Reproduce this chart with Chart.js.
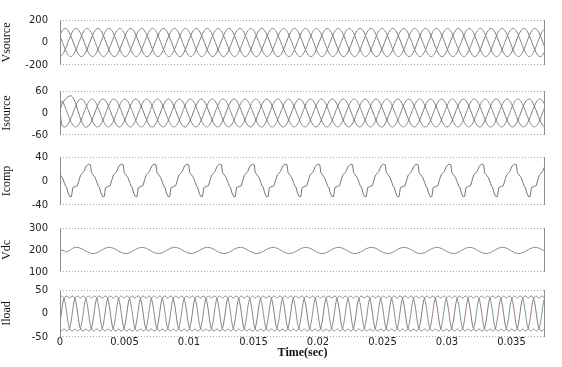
<!DOCTYPE html>
<html>
<head>
<meta charset="utf-8">
<script src="https://cdn.jsdelivr.net/npm/chart.js@4.4.1/dist/chart.umd.min.js"></script>
<style>
    html, body { margin: 0; padding: 0; background: #fff; overflow: hidden; }
    #wrap { position: relative; width: 562px; height: 367px; overflow: hidden; }
    .panel { position: absolute; left: 0; width: 562px; }
</style>
</head>
<body>
<div id="wrap">
    <div class="panel" style="top:12px;height:61px"><canvas id="vsourceChart"></canvas></div>
    <div class="panel" style="top:83px;height:60px"><canvas id="isourceChart"></canvas></div>
    <div class="panel" style="top:149px;height:64px"><canvas id="icompChart"></canvas></div>
    <div class="panel" style="top:220px;height:60px"><canvas id="vdcChart"></canvas></div>
    <div class="panel" style="top:282px;height:88px"><canvas id="iloadChart"></canvas></div>
</div>
<script>
// Time axis (seconds) and the fundamental period
const T_END = 0.0376;
const PERIOD = 0.00254;
const xTicks = [0, 0.005, 0.01, 0.015, 0.02, 0.025, 0.03, 0.035];

// One period of each waveform (fraction of period -> value)
const sineFrac = [0, 1/12, 2/12, 3/12, 4/12, 5/12, 6/12, 7/12, 8/12, 9/12, 10/12, 11/12];
const vsourceCycle = [125, 108, 62, 0, -62, -108, -125, -108, -62, 0, 62, 108];
const isourceCycle = [38, 33, 19, 0, -19, -33, -38, -33, -19, 0, 19, 33];
const vdcCycle = [212, 210, 205, 198, 191, 186, 184, 186, 191, 198, 205, 210];

const icompFrac = [0, 0.06, 0.09, 0.20, 0.27, 0.30, 0.33, 0.38, 0.43, 0.48, 0.52, 0.60, 0.66, 0.72, 0.76, 0.80, 0.86, 0.93];
const icompCycle = [28, 27, 14, 6, -4, -9, -10, -20, -26, -26, -11, -9, -8, 3, 10, 12, 16, 25];

const iloadFrac = [0, 0.05, 0.10, 0.17, 0.25, 0.33, 0.40, 0.45, 0.50, 0.55, 0.60, 0.67, 0.75, 0.83, 0.90, 0.95];
const iloadCycle = [0, 24, 34, 37, 33, 37, 34, 22, 0, -24, -34, -37, -33, -37, -34, -22];

// first peak (or rising edge) of each phase, seconds
const vsourcePeaks = [0.00040, 0.00125, 0.00210];
const isourcePeaks = [0.00079, 0.00164, 0.00248];
const icompPeak = -0.00033;
const vdcPeak = 0.00128;
const iloadStarts = [0.00010, 0.00095, 0.00180];

// start-up transients
const isourceHeadA_t = [0, 0.00025, 0.00079, 0.00110, 0.00140, 0.00170, 0.00200];
const isourceHeadA_v = [8, 30, 47, 36, 5, -25, -40];
const isourceHeadB_t = [0];
const isourceHeadB_v = [8];
const isourceHeadC_t = [0];
const isourceHeadC_v = [20];
const vdcHead_t = [0, 0.00025, 0.00050, 0.00090];
const vdcHead_v = [200, 198, 192, 204];

const phaseColors = ['#7a7a7a', '#90799a', '#7a9682'];

// repeat a measured cycle along the time axis
function buildSeries(frac, vals, firstPeak, headT, headV) {
    const pts = [];
    if (headT) headT.forEach((t, i) => pts.push({ x: t, y: headV[i] }));
    const after = pts.length ? pts[pts.length - 1].x : -Infinity;
    for (let k = -1; firstPeak + k * PERIOD < T_END + PERIOD; k++) {
        frac.forEach((f, i) => {
            const x = firstPeak + (k + f) * PERIOD;
            if (x > after) pts.push({ x: x, y: vals[i] });
        });
    }
    return pts;
}

function lineSet(data, color, tension) {
    return {
        data: data,
        borderColor: color,
        borderWidth: 1,
        pointRadius: 0,
        fill: false,
        tension: tension
    };
}

// frame: dotted top/bottom, solid sides
const framePlugin = {
    id: 'frame',
    afterDatasetsDraw(chart) {
        const a = chart.chartArea;
        const ctx = chart.ctx;
        ctx.save();
        ctx.lineWidth = 1;
        ctx.strokeStyle = '#a8a8a8';
        ctx.setLineDash([1, 2]);
        ctx.beginPath();
        ctx.moveTo(a.left, Math.round(a.top) + 0.5);
        ctx.lineTo(a.right, Math.round(a.top) + 0.5);
        ctx.moveTo(a.left, Math.round(a.bottom) - 0.5);
        ctx.lineTo(a.right, Math.round(a.bottom) - 0.5);
        ctx.stroke();
        ctx.setLineDash([]);
        ctx.strokeStyle = '#8c8c8c';
        ctx.beginPath();
        ctx.moveTo(Math.round(a.left) + 0.5, a.top);
        ctx.lineTo(Math.round(a.left) + 0.5, a.bottom);
        ctx.moveTo(Math.round(a.right) - 0.5, a.top);
        ctx.lineTo(Math.round(a.right) - 0.5, a.bottom);
        ctx.stroke();
        ctx.restore();
    }
};

function makePanel(canvasId, datasets, yMin, yMax, yStep, yTitle, isBottom) {
    const ctx = document.getElementById(canvasId).getContext('2d');
    return new Chart(ctx, {
        type: 'line',
        data: { datasets: datasets },
        options: {
            responsive: true,
            maintainAspectRatio: false,
            animation: false,
            events: [],
            layout: { padding: { top: 0, bottom: 0, left: 0, right: 17 } },
            plugins: { legend: { display: false }, tooltip: { enabled: false } },
            scales: {
                x: {
                    type: 'linear',
                    min: 0,
                    max: T_END,
                    display: isBottom,
                    afterBuildTicks: function(scale) {
                        scale.ticks = xTicks.map(v => ({ value: v }));
                    },
                    grid: { display: false, drawTicks: false },
                    border: { display: false },
                    ticks: {
                        padding: 1,
                        color: '#222',
                        autoSkip: false,
                        font: { family: 'DejaVu Sans', size: 10, lineHeight: 0.8 },
                        maxRotation: 0,
                        callback: function(value) { return String(+value.toFixed(4)); }
                    },
                    title: {
                        display: true,
                        text: 'Time(sec)',
                        color: '#111',
                        padding: { top: 0, bottom: 11 },
                        font: { family: 'Liberation Serif', size: 12, weight: 'bold', lineHeight: 1 }
                    }
                },
                y: {
                    min: yMin,
                    max: yMax,
                    afterBuildTicks: function(scale) {
                        scale.ticks = [yMin, yMin + yStep, yMax].map(v => ({ value: v }));
                    },
                    afterFit: function(scale) { scale.width = 60; },
                    grid: {
                        display: true,
                        drawOnChartArea: false,
                        drawTicks: true,
                        tickLength: 10,
                        tickColor: 'rgba(0,0,0,0)',
                        color: 'rgba(0,0,0,0)'
                    },
                    border: { display: false },
                    ticks: {
                        padding: 2,
                        color: '#222',
                        autoSkip: false,
                        font: { family: 'DejaVu Sans', size: 10 }
                    },
                    title: {
                        display: true,
                        text: yTitle,
                        color: '#111',
                        padding: { top: 0, bottom: 0 },
                        font: { family: 'Liberation Serif', size: 12 }
                    }
                }
            }
        },
        plugins: [framePlugin]
    });
}

// Vsource
makePanel('vsourceChart', vsourcePeaks.map((p, i) =>
    lineSet(buildSeries(sineFrac, vsourceCycle, p), phaseColors[i], 0.4)
), -200, 200, 200, 'Vsource', false);

// Isource
const isHeads = [
    [isourceHeadA_t, isourceHeadA_v],
    [isourceHeadB_t, isourceHeadB_v],
    [isourceHeadC_t, isourceHeadC_v]
];
makePanel('isourceChart', isourcePeaks.map((p, i) =>
    lineSet(buildSeries(sineFrac, isourceCycle, p, isHeads[i][0], isHeads[i][1]), phaseColors[i], 0.4)
), -60, 60, 60, 'Isource', false);

// Icomp
makePanel('icompChart', [
    lineSet(buildSeries(icompFrac, icompCycle, icompPeak), '#7e7086', 0)
], -40, 40, 40, 'Icomp', false);

// Vdc
makePanel('vdcChart', [
    lineSet(buildSeries(sineFrac, vdcCycle, vdcPeak, vdcHead_t, vdcHead_v), '#7e8c7e', 0.4)
], 100, 300, 100, 'Vdc', false);

// Iload
makePanel('iloadChart', iloadStarts.map((p, i) =>
    lineSet(buildSeries(iloadFrac, iloadCycle, p), phaseColors[i], 0.4)
), -50, 50, 50, 'Iload', true);
</script>
</body>
</html>
